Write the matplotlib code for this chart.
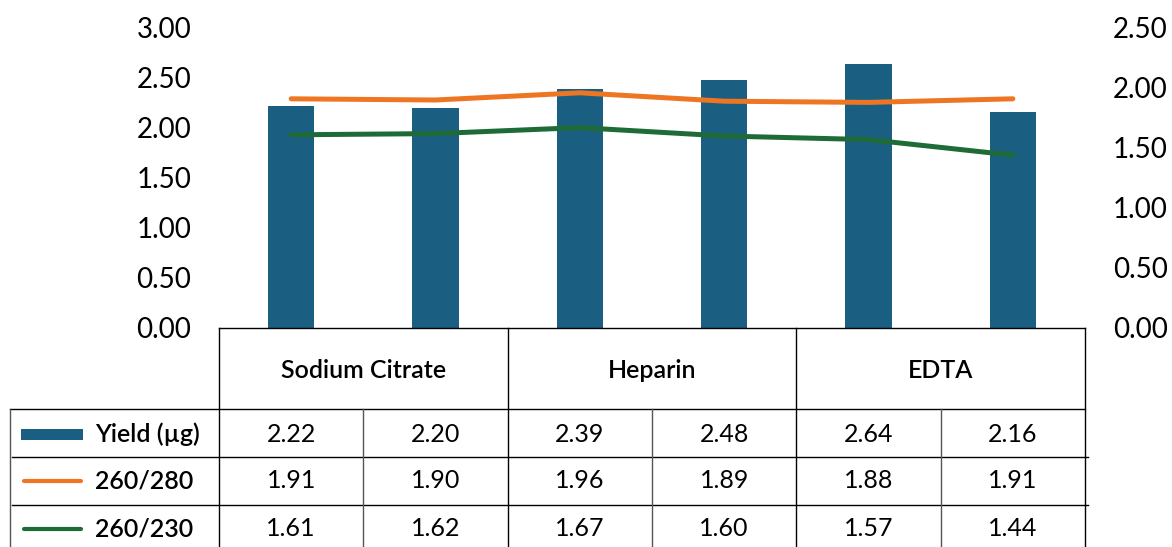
#!/usr/bin/env python3
"""
Yield and purity by anticoagulant: bars + ratio lines with a data table below
"""
import matplotlib
matplotlib.use("Agg")
import matplotlib.pyplot as plt
import numpy as np

# data
groups = ["Sodium Citrate", "Heparin", "EDTA"]
series_names = ["Yield (µg)", "260/280", "260/230"]
yield_ug = [2.22, 2.20, 2.39, 2.48, 2.64, 2.16]
r260_280 = [1.91, 1.90, 1.96, 1.89, 1.88, 1.91]
r260_230 = [1.61, 1.62, 1.67, 1.60, 1.57, 1.44]
left_ticks = [0.0, 0.5, 1.0, 1.5, 2.0, 2.5, 3.0]
right_ticks = [0.0, 0.5, 1.0, 1.5, 2.0, 2.5]

BLUE = "#1a5f81"
ORANGE = "#ee7623"
GREEN = "#1e6b37"

W, H = 1172, 547
plt.rcParams['font.family'] = ['Lato', 'DejaVu Sans']
plt.rcParams['font.size'] = 17


def px(x0, y0, x1, y1):
    # pixel box (top-left origin) -> figure fraction rect
    return [x0 / W, 1 - y1 / H, (x1 - x0) / W, (y1 - y0) / H]


def main():
    fig = plt.figure(figsize=(W / 100, H / 100), dpi=100)
    ax = fig.add_axes(px(219, 28, 1085, 328))
    ax2 = ax.twinx()
    x = np.arange(len(yield_ug))

    ax.bar(x, yield_ug, width=0.32, color=BLUE, zorder=1)
    ax2.plot(x, r260_280, color=ORANGE, lw=3.6, solid_capstyle="round")
    ax2.plot(x, r260_230, color=GREEN, lw=3.6, solid_capstyle="round")

    ax.set_xlim(-0.5, len(x) - 0.5)
    ax.set_ylim(0, 3)
    ax2.set_ylim(0, 2.5)
    ax.set_yticks(left_ticks)
    ax.set_yticklabels(["%.2f" % v for v in left_ticks])
    ax2.set_yticks(right_ticks)
    ax2.set_yticklabels(["%.2f" % v for v in right_ticks])
    ax.set_xticks([])
    ax.tick_params(axis="y", length=0, pad=20, labelsize=20)
    ax2.tick_params(axis="y", length=0, pad=20, labelsize=20)
    for a in (ax, ax2):
        for s in a.spines.values():
            s.set_visible(False)

    # table underneath, x in category units, y in pixel rows
    tab = fig.add_axes(px(219, 328, 1085, 547))
    tab.set_xlim(-0.5, len(x) - 0.5)
    tab.set_ylim(547, 328)
    tab.axis("off")
    u = 1.0 / 144.3  # category units per pixel
    lk = dict(color="black", lw=1.0, clip_on=False)
    lg = dict(color="#555555", lw=1.0, clip_on=False)
    right = len(x) - 0.5

    # horizontal rules
    tab.plot([-0.5, right], [328, 328], **lk)
    tab.plot([-0.5 - 209 * u, right], [409, 409], **lk)
    tab.plot([-0.5 - 207 * u, right + 3 * u], [457, 457], **lk)
    tab.plot([-0.5 - 207 * u, right + 3 * u], [505, 505], **lk)
    # verticals
    for g in range(len(groups) + 1):
        tab.plot([-0.5 + 2 * g] * 2, [328, 560], **lk)
    for g in range(len(groups)):
        tab.plot([0.5 + 2 * g] * 2, [409, 560], **lg)
    tab.plot([-0.5 - 209 * u] * 2, [409, 560], **lg)

    for g, name in enumerate(groups):
        tab.text(0.5 + 2 * g, 370, name, ha="center", va="center",
                 fontsize=18, fontweight="semibold")

    rows_y = [434, 481, 529]
    for ry, vals in zip(rows_y, [yield_ug, r260_280, r260_230]):
        for i, v in enumerate(vals):
            tab.text(i, ry, "%.2f" % v, ha="center", va="center", fontsize=18)

    # row labels with legend keys
    kx0, kx1 = -0.5 - 198 * u, -0.5 - 136 * u
    tab.fill_between([kx0, kx1], rows_y[0] - 5, rows_y[0] + 6, color=BLUE,
                     clip_on=False, lw=0)
    tab.plot([kx0 + 3 * u, kx1 - 2 * u], [rows_y[1]] * 2, color=ORANGE, lw=3,
             solid_capstyle="round", clip_on=False)
    tab.plot([kx0 + 3 * u, kx1 - 2 * u], [rows_y[2]] * 2, color=GREEN, lw=3,
             solid_capstyle="round", clip_on=False)
    for ry, name in zip(rows_y, series_names):
        tab.text(-0.5 - 124 * u, ry, name, ha="left", va="center",
                 fontsize=18, fontweight="semibold", clip_on=False)

    fig.savefig("out.png", dpi=100)


if __name__ == "__main__":
    main()
